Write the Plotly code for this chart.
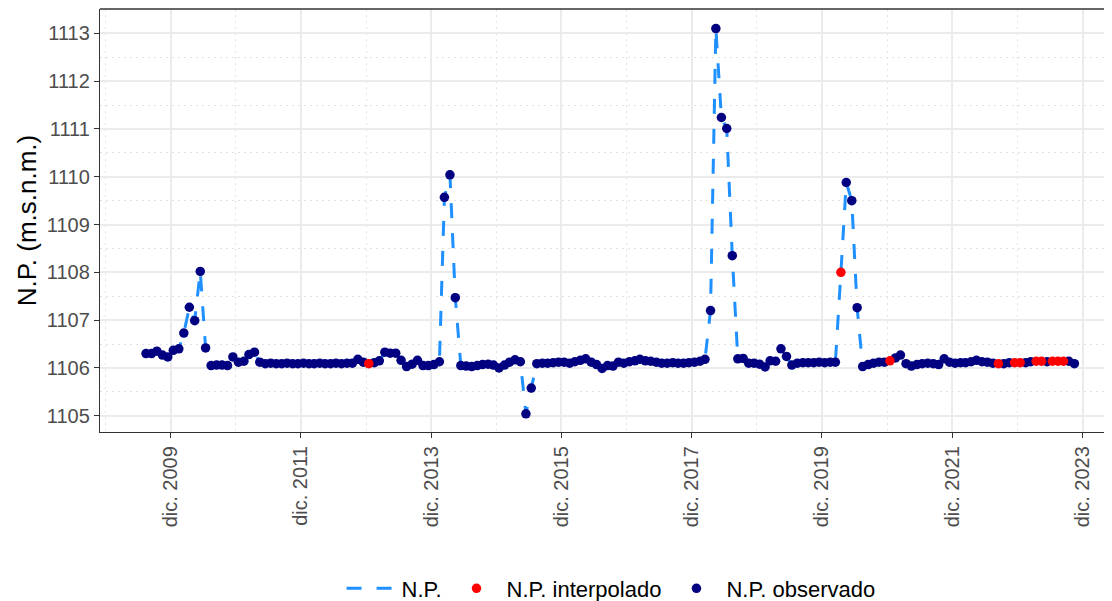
import plotly.graph_objects as go

# ---- data (monthly, Aug 2009 - Nov 2023) ----
start_year, start_month = 2009, 8
v2009 = [1106.30, 1106.30, 1106.35, 1106.27, 1106.23]
v2010 = [1106.37, 1106.40, 1106.73, 1107.27, 1106.99, 1108.02, 1106.42, 1106.05, 1106.06, 1106.06, 1106.05, 1106.23]
v2011 = [1106.12, 1106.14, 1106.28, 1106.33, 1106.12, 1106.09, 1106.10, 1106.09, 1106.09, 1106.10, 1106.09, 1106.09]
v2012 = [1106.10, 1106.09, 1106.09, 1106.10, 1106.09, 1106.09, 1106.10, 1106.09, 1106.10, 1106.10, 1106.18, 1106.12]
v2013 = [1106.09, 1106.11, 1106.15, 1106.33, 1106.31, 1106.31, 1106.16, 1106.03, 1106.08, 1106.16, 1106.05, 1106.05]
v2014 = [1106.07, 1106.13, 1109.57, 1110.04, 1107.47, 1106.05, 1106.04, 1106.03, 1106.05, 1106.07, 1106.08, 1106.06]
v2015 = [1106.00, 1106.06, 1106.12, 1106.17, 1106.13, 1105.04, 1105.58, 1106.09, 1106.10, 1106.10, 1106.11, 1106.12]
v2016 = [1106.12, 1106.10, 1106.13, 1106.16, 1106.19, 1106.12, 1106.07, 1105.99, 1106.05, 1106.04, 1106.12, 1106.10]
v2017 = [1106.13, 1106.15, 1106.18, 1106.15, 1106.14, 1106.12, 1106.10, 1106.10, 1106.11, 1106.10, 1106.10, 1106.11]
v2018 = [1106.12, 1106.14, 1106.18, 1107.20, 1113.10, 1111.24, 1111.01, 1108.35, 1106.19, 1106.20, 1106.10, 1106.10]
v2019 = [1106.08, 1106.02, 1106.15, 1106.14, 1106.40, 1106.24, 1106.06, 1106.10, 1106.11, 1106.11, 1106.11, 1106.12]
v2020 = [1106.11, 1106.12, 1106.12, 1108.00, 1109.88, 1109.50, 1107.26, 1106.03, 1106.07, 1106.10, 1106.12, 1106.12]
v2021 = [1106.15, 1106.21, 1106.27, 1106.09, 1106.04, 1106.07, 1106.09, 1106.10, 1106.09, 1106.07, 1106.19, 1106.12]
v2022 = [1106.10, 1106.11, 1106.11, 1106.13, 1106.16, 1106.13, 1106.12, 1106.10, 1106.09, 1106.09, 1106.11, 1106.11]
v2023 = [1106.11, 1106.11, 1106.13, 1106.14, 1106.14, 1106.13, 1106.14, 1106.14, 1106.14, 1106.14, 1106.09]

interpolated_months = ["2013-01", "2020-04", "2021-01", "2022-09", "2022-12", "2023-01",
                       "2023-04", "2023-05", "2023-07", "2023-08", "2023-09"]

tick_years = [2009, 2011, 2013, 2015, 2017, 2019, 2021, 2023]
tick_labels = ["dic. %d" % y for y in tick_years]
y_ticks = [1105, 1106, 1107, 1108, 1109, 1110, 1111, 1112, 1113]

values = v2009 + v2010 + v2011 + v2012 + v2013 + v2014 + v2015 + v2016 + \
    v2017 + v2018 + v2019 + v2020 + v2021 + v2022 + v2023

months = []
y, m = start_year, start_month
for _ in values:
    months.append("%d-%02d" % (y, m))
    m += 1
    if m > 12:
        m = 1
        y += 1
dates = [mm + "-15" for mm in months]

obs_x, obs_y, int_x, int_y = [], [], [], []
for mm, d, v in zip(months, dates, values):
    if mm in interpolated_months:
        int_x.append(d); int_y.append(v)
    else:
        obs_x.append(d); obs_y.append(v)

NAVY = "#000080"
RED = "#FF0000"
BLUE = "#1E90FF"
FONT = "Liberation Sans, Arial, sans-serif"

fig = go.Figure()
fig.add_trace(go.Scatter(x=dates, y=values, mode="lines", name="N.P.",
                         line=dict(color=BLUE, width=3, dash="15px,15px"),
                         legendrank=1))
fig.add_trace(go.Scatter(x=obs_x, y=obs_y, mode="markers", name="N.P. observado",
                         marker=dict(color=NAVY, size=9.5), legendrank=3))
fig.add_trace(go.Scatter(x=int_x, y=int_y, mode="markers", name="N.P. interpolado",
                         marker=dict(color=RED, size=9.5), legendrank=2))

# the page body adds an 8px offset, so the figure is sized/margined to compensate
fig.update_layout(
    width=1104, height=593,
    margin=dict(l=92, r=0, t=1, b=169, autoexpand=False),
    paper_bgcolor="white", plot_bgcolor="white",
    font=dict(family=FONT, color="#4D4D4D"),
    showlegend=True,
    legend=dict(orientation="h", x=0.505, xanchor="center", y=-0.37, yanchor="middle",
                yref="paper", font=dict(size=22, color="black"), itemwidth=50,
                bgcolor="rgba(0,0,0,0)"),
    xaxis=dict(
        type="date", range=["2008-11-30", "2024-06-13"], automargin=False,
        tickmode="array", tickvals=["%d-12-31" % y for y in tick_years], ticktext=tick_labels,
        tickangle=-90, tickfont=dict(size=20, color="#4D4D4D"),
        ticks="outside", ticklen=5, tickwidth=1.3, tickcolor="#333333",
        showline=True, linecolor="#333333", linewidth=1.3,
        showgrid=True, gridcolor="#EBEBEB", gridwidth=2,
        minor=dict(showgrid=True, gridcolor="#E2E2E2", gridwidth=1, griddash="2px,4px",
                   tickmode="array", tickvals=["%d-12-31" % y for y in range(2008, 2024, 2)]),
        zeroline=False,
    ),
    yaxis=dict(
        range=[1104.66, 1113.51], tickmode="array", tickvals=y_ticks, automargin=False,
        tickfont=dict(size=20, color="#4D4D4D"),
        ticks="outside", ticklen=5, tickwidth=1.3, tickcolor="#333333",
        showline=True, linecolor="#333333", linewidth=1.3,
        showgrid=True, gridcolor="#EBEBEB", gridwidth=2,
        minor=dict(showgrid=True, gridcolor="#E2E2E2", gridwidth=1, griddash="2px,4px",
                   tickmode="array", tickvals=[v + 0.5 for v in y_ticks[:-1]]),
        zeroline=False,
        title=dict(text="N.P. (m.s.n.m.)", font=dict(size=26, color="black"), standoff=2),
    ),
    shapes=[dict(type="line", xref="paper", yref="paper", x0=0, x1=1, y0=1, y1=1,
                 line=dict(color="#333333", width=1.3))],
)

fig.write_html("out.html")
